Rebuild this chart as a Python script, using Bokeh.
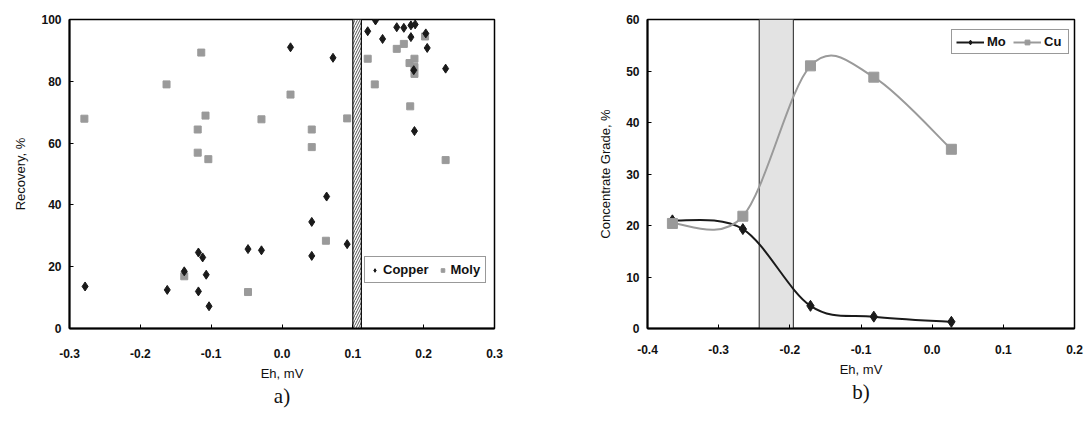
from bokeh.plotting import figure
from bokeh.models import Legend, LegendItem, LinearAxis, FixedTicker, Range1d
from bokeh.layouts import row
from bokeh.embed import file_html
from bokeh.resources import INLINE

# ---------------- data: panel a) ----------------
copper_x = [-0.278, -0.162, -0.138, -0.118, -0.112, -0.107, -0.118, -0.103, -0.048, -0.029,
            0.012, 0.042, 0.042, 0.063, 0.072, 0.092, 0.121, 0.132, 0.142, 0.162,
            0.172, 0.182, 0.188, 0.182, 0.203, 0.205, 0.231, 0.187, 0.186]
copper_y = [13.6, 12.5, 18.5, 24.6, 23.0, 17.4, 12.0, 7.2, 25.7, 25.3,
            91.0, 34.5, 23.5, 42.7, 87.6, 27.3, 96.2, 99.7, 93.7, 97.5,
            97.3, 98.1, 98.4, 94.3, 95.5, 90.8, 84.1, 63.9, 83.6]
moly_x = [-0.279, -0.163, -0.114, -0.108, -0.119, -0.119, -0.104, -0.029, 0.012, 0.042,
          0.042, 0.092, -0.138, -0.048, 0.062, 0.121, 0.131, 0.162, 0.172, 0.180,
          0.187, 0.187, 0.187, 0.181, 0.202, 0.231]
moly_y = [67.9, 79.0, 89.3, 68.9, 64.4, 56.9, 54.8, 67.7, 75.7, 64.4,
          58.7, 68.0, 16.9, 11.8, 28.4, 87.3, 79.0, 90.5, 92.1, 85.9,
          87.3, 84.6, 82.4, 71.9, 94.5, 54.5]
band_a = [0.100, 0.112]
xticks_a = [-0.3, -0.2, -0.1, 0.0, 0.1, 0.2, 0.3]
yticks_a = [0, 20, 40, 60, 80, 100]

# ---------------- data: panel b) ----------------
eh_b = [-0.365, -0.266, -0.171, -0.082, 0.027]
mo_b = [21.0, 19.3, 4.4, 2.3, 1.3]
cu_b = [20.4, 21.8, 51.0, 48.8, 34.8]
band_b = [-0.243, -0.195]
xticks_b = [-0.4, -0.3, -0.2, -0.1, 0.0, 0.1, 0.2]
yticks_b = [0, 10, 20, 30, 40, 50, 60]

FONT = "Liberation Sans"
H = 424


def smooth_segments(xs, ys):
    """Excel-style smoothed line as cubic Bezier segments (Catmull-Rom control points)."""
    n = len(xs)
    segs = dict(x0=[], y0=[], x1=[], y1=[], cx0=[], cy0=[], cx1=[], cy1=[])
    for i in range(n - 1):
        p0 = i - 1 if i > 0 else i
        p3 = i + 2 if i + 2 < n else i + 1
        segs["x0"].append(xs[i]); segs["y0"].append(ys[i])
        segs["x1"].append(xs[i + 1]); segs["y1"].append(ys[i + 1])
        segs["cx0"].append(xs[i] + (xs[i + 1] - xs[p0]) / 6)
        segs["cy0"].append(ys[i] + (ys[i + 1] - ys[p0]) / 6)
        segs["cx1"].append(xs[i + 1] - (xs[p3] - xs[i]) / 6)
        segs["cy1"].append(ys[i + 1] - (ys[p3] - ys[i]) / 6)
    return segs


def style(p, xticks, yticks, xlabel, ylabel, caption):
    p.xgrid.visible = False
    p.ygrid.visible = False
    p.outline_line_color = "black"
    p.outline_line_width = 1.5
    p.background_fill_color = "white"
    p.border_fill_color = "white"
    for ax in (p.xaxis[0], p.yaxis[0]):
        ax.axis_line_width = 2
        ax.axis_line_color = "black"
        ax.major_tick_in = 4
        ax.major_tick_out = 0
        ax.minor_tick_line_color = None
        ax.major_tick_line_color = "black"
        ax.major_label_text_font = FONT
        ax.major_label_text_font_size = "12px"
        ax.major_label_text_font_style = "bold"
        ax.major_label_text_color = "#111111"
        ax.axis_label_text_font = FONT
        ax.axis_label_text_font_size = "13px"
        ax.axis_label_text_font_style = "normal"
        ax.axis_label_text_color = "#111111"
    p.xaxis[0].ticker = FixedTicker(ticks=xticks)
    p.yaxis[0].ticker = FixedTicker(ticks=yticks)
    p.xaxis[0].axis_label = xlabel
    p.yaxis[0].axis_label = ylabel
    p.xaxis[0].major_label_standoff = 20
    p.xaxis[0].axis_label_standoff = 5
    p.yaxis[0].major_label_standoff = 8
    p.yaxis[0].axis_label_standoff = 10
    # caption "a)" / "b)" as an extra, tick-less axis label below the x axis
    cap = LinearAxis(ticker=FixedTicker(ticks=[]), axis_label=caption,
                     axis_line_color=None, major_tick_line_color=None,
                     minor_tick_line_color=None, major_label_standoff=0,
                     major_tick_in=0, major_tick_out=0,
                     axis_label_standoff=0, axis_label_text_font="Liberation Serif",
                     axis_label_text_font_size="21px", axis_label_text_font_style="normal",
                     axis_label_text_color="#111111")
    p.add_layout(cap, "below")


# ---------------- panel a) ----------------
W1 = 560
pa = figure(width=W1, height=H, output_backend="svg", toolbar_location=None,
            x_range=Range1d(-0.3, 0.3), y_range=Range1d(0, 100),
            min_border_left=69, min_border_right=W1 - 494,
            min_border_top=19, min_border_bottom=H - 328)
style(pa, xticks_a, yticks_a, "Eh, mV", "Recovery, %", "a)")
pa.xaxis[0].major_label_overrides = {t: f"{t:.1f}" for t in xticks_a}

pa.quad(left=[band_a[0]], right=[band_a[1]], bottom=[0], top=[100],
        fill_color="white", line_color="black", line_width=1.2,
        hatch_pattern="/", hatch_color="#444444", hatch_scale=5, hatch_weight=0.9)
r_moly = pa.scatter(moly_x, moly_y, marker="square", size=7,
                    fill_color="#9a9a9a", line_color="#9a9a9a")
r_cu = pa.scatter(copper_x, copper_y, marker="diamond", size=9,
                  fill_color="#1a1a1a", line_color="#1a1a1a")

leg_a = Legend(items=[LegendItem(label="Copper", renderers=[r_cu]),
                      LegendItem(label="Moly", renderers=[r_moly])],
               location=(295, 45), orientation="horizontal",
               label_text_font=FONT, label_text_font_size="13px",
               label_text_font_style="bold", label_text_color="#111111",
               glyph_width=9, glyph_height=10, label_standoff=4, spacing=9,
               padding=5, margin=0, border_line_color="#333333", border_line_width=1,
               background_fill_alpha=1)
pa.add_layout(leg_a, "center")

# ---------------- panel b) ----------------
W2 = 1086 - W1
pb = figure(width=W2, height=H, output_backend="svg", toolbar_location=None,
            x_range=Range1d(-0.4, 0.2), y_range=Range1d(0, 60),
            min_border_left=647 - W1, min_border_right=W2 - (1074 - W1),
            min_border_top=16, min_border_bottom=H - 333)
style(pb, xticks_b, yticks_b, "Eh, mV", "Concentrate Grade, %", "b)")
pb.xaxis[0].major_label_overrides = {t: f"{t:.1f}" for t in xticks_b}
pb.xaxis[0].major_label_standoff = 16

pb.quad(left=[band_b[0]], right=[band_b[1]], bottom=[0], top=[60],
        fill_color="#e3e3e3", line_color="#444444", line_width=1.2)

mo_s = smooth_segments(eh_b, mo_b)
cu_s = smooth_segments(eh_b, cu_b)
r_mo_line = pb.bezier(line_color="#1a1a1a", line_width=2, **mo_s)
r_mo_pts = pb.scatter(eh_b, mo_b, marker="diamond", size=11,
                      fill_color="#1a1a1a", line_color="#1a1a1a")
r_cu_line = pb.bezier(line_color="#9a9a9a", line_width=2, **cu_s)
r_cu_pts = pb.scatter(eh_b, cu_b, marker="square", size=10,
                      fill_color="#9a9a9a", line_color="#9a9a9a")

leg_b = Legend(items=[LegendItem(label="Mo", renderers=[r_mo_line, r_mo_pts]),
                      LegendItem(label="Cu", renderers=[r_cu_line, r_cu_pts])],
               location=(304, 274), orientation="horizontal",
               label_text_font=FONT, label_text_font_size="13px",
               label_text_font_style="bold", label_text_color="#111111",
               glyph_width=28, glyph_height=12, label_standoff=3, spacing=6,
               padding=4, margin=0, border_line_color="#333333", border_line_width=1,
               background_fill_alpha=1)
pb.add_layout(leg_b, "center")

layout = row(pa, pb, spacing=0)
open("out.html", "w").write(file_html(layout, INLINE))
